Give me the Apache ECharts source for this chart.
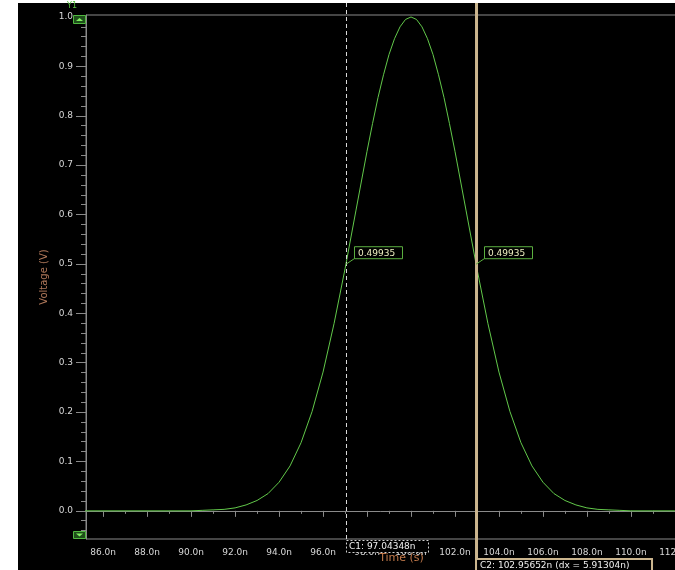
<!DOCTYPE html>
<html><head><meta charset="utf-8">
<script src="https://cdn.jsdelivr.net/npm/echarts@6/dist/echarts.min.js"></script>
<style>
html,body{margin:0;padding:0;background:#fff;}
#wrap{position:relative;width:675px;height:570px;overflow:hidden;background:#fff;}
#bg{position:absolute;left:18px;top:3px;right:0;bottom:0;background:#000;}
#chart{position:absolute;left:0;top:0;width:675px;height:570px;}
</style></head><body>
<div id="wrap"><div id="bg"></div><div id="chart"></div></div>
<script>
// ---- data ----
const timeNs = [85,86,87,88,89,90,90.5,91,91.5,92,92.5,93,93.5,94,94.5,95,95.5,96,96.5,97,97.5,98,98.25,98.5,98.75,99,99.25,99.5,99.75,100,100.25,100.5,100.75,101,101.25,101.5,101.75,102,102.5,103,103.5,104,104.5,105,105.5,106,106.5,107,107.5,108,108.5,109,109.5,110,111,112,113,114];
const voltage = [0,0,0,0,0,0,0.001,0.002,0.003,0.006,0.012,0.021,0.035,0.058,0.091,0.138,0.201,0.281,0.379,0.490,0.609,0.728,0.784,0.837,0.883,0.924,0.956,0.980,0.995,1.000,0.995,0.980,0.956,0.924,0.883,0.837,0.784,0.728,0.609,0.490,0.379,0.281,0.201,0.138,0.091,0.058,0.035,0.021,0.012,0.006,0.003,0.002,0.001,0,0,0,0,0];
const xTickValues = [86,88,90,92,94,96,98,100,102,104,106,108,110,112];
const xMinorTicks = [85,87,89,91,93,95,97,99,101,103,105,107,109,111,113];
const yTickValues = [0.0,0.1,0.2,0.3,0.4,0.5,0.6,0.7,0.8,0.9,1.0];
const cursorTimes = [97.04348, 102.95652];
const cursorLevels = [0.49935, 0.49935];
const markerTexts = ['0.49935', '0.49935'];
const cursorTexts = ['C1: 97.04348n', 'C2: 102.95652n (dx = 5.91304n)'];

const X_MIN = 85.22, X_MAX = 113.37, Y_MIN = -0.057, Y_MAX = 1.004;
const yMinorTicks = [];
for (let k = -2; k <= 50; k++) { if (k % 5 !== 0) yMinorTicks.push(+(k * 0.02).toFixed(2)); }

const FONT = 'DejaVu Sans';
const AX = '#8a8a8a', TXT = '#d8d8d8', GREEN = '#62c84a', TAN = '#cbb58e';

const chart = echarts.init(document.getElementById('chart'), null, {renderer: 'canvas'});
chart.setOption({
  animation: false,
  backgroundColor: 'transparent',
  grid: {left: 86, top: 15, right: -30, bottom: 31, containLabel: false, outerBoundsMode: 'none',
    show: true, borderColor: AX, borderWidth: 1, backgroundColor: 'transparent'},
  xAxis: [{
    type: 'value', min: X_MIN, max: X_MAX, position: 'bottom',
    axisLine: {lineStyle: {color: AX, width: 1}},
    axisTick: {customValues: xTickValues, length: 6, lineStyle: {color: AX}},
    axisLabel: {customValues: xTickValues, formatter: v => v.toFixed(1) + 'n', color: TXT, fontSize: 9, fontFamily: FONT, margin: 9},
    splitLine: {show: false},
    name: 'Time (s)', nameLocation: 'middle', nameGap: 14, nameMoveOverlap: false,
    nameTextStyle: {color: '#c0784a', fontSize: 11, fontFamily: FONT, padding: [0, 0, 0, 12]}
  }, {
    type: 'value', min: X_MIN, max: X_MAX, position: 'bottom', offset: 0,
    axisLine: {show: false},
    axisTick: {customValues: xMinorTicks, length: 3, lineStyle: {color: AX}},
    axisLabel: {show: false}, splitLine: {show: false}
  }],
  yAxis: [{
    type: 'value', min: Y_MIN, max: Y_MAX, position: 'left',
    axisLine: {show: true, lineStyle: {color: AX, width: 1}},
    axisTick: {show: true, customValues: yTickValues, length: 10, lineStyle: {color: AX}},
    axisLabel: {customValues: yTickValues, formatter: v => v.toFixed(1), color: TXT, fontSize: 9, fontFamily: FONT, margin: 13},
    splitLine: {show: false},
    name: 'Voltage (V)', nameLocation: 'middle', nameGap: 37, nameRotate: 90, nameMoveOverlap: false,
    nameTextStyle: {color: '#b0785a', fontSize: 10, fontFamily: FONT}
  }, {
    type: 'value', min: Y_MIN, max: Y_MAX, position: 'left', offset: 0,
    axisLine: {show: false},
    axisTick: {show: true, customValues: yMinorTicks, length: 5, lineStyle: {color: AX}},
    axisLabel: {show: false}, splitLine: {show: false}
  }],
  series: [{
    type: 'line', xAxisIndex: 0, yAxisIndex: 0,
    data: timeNs.map((t, i) => [t, voltage[i]]),
    showSymbol: false, symbol: 'none', smooth: false, clip: true,
    lineStyle: {color: GREEN, width: 1}
  }]
});

// ---- annotations positioned through the chart's own scales ----
const px = (x, y) => chart.convertToPixel({gridIndex: 0}, [x, y]);
const corner = px(X_MIN, Y_MIN);
const axisX = corner[0], axisBottom = corner[1];
const gridTop = px(X_MIN, Y_MAX)[1];
const panelTop = 3;
const g = [];
const pts = cursorTimes.map((t, i) => px(t, cursorLevels[i]));

g.push({type: 'line', z: 100, shape: {x1: pts[0][0] + 0.5, y1: panelTop, x2: pts[0][0] + 0.5, y2: axisBottom + 1},
  style: {stroke: '#dcdcdc', lineWidth: 1, lineDash: [4, 3]}});
g.push({type: 'line', z: 100, shape: {x1: pts[1][0] + 0.5, y1: panelTop, x2: pts[1][0] + 0.5, y2: axisBottom + 20},
  style: {stroke: TAN, lineWidth: 3}});

pts.forEach((p, i) => {
  g.push({type: 'polyline', z: 101, shape: {points: [[p[0], p[1]], [p[0] + 9, p[1] - 6]]}, style: {stroke: '#5cb040', lineWidth: 1, fill: null}});
  g.push({type: 'rect', z: 101, shape: {x: p[0] + 8.5, y: p[1] - 17.5, width: 48, height: 12}, style: {fill: '#000', stroke: '#5cb040', lineWidth: 1}});
  g.push({type: 'text', z: 102, x: p[0] + 12, y: p[1] - 11, style: {text: markerTexts[i], fill: '#eeeec0', font: '9px ' + FONT, verticalAlign: 'middle'}});
});

g.push({type: 'rect', z: 103, shape: {x: pts[0][0] + 0.5, y: axisBottom + 1.5, width: 82, height: 12}, style: {fill: '#000', stroke: '#d0d0d0', lineWidth: 1, lineDash: [2, 2]}});
g.push({type: 'text', z: 104, x: pts[0][0] + 3, y: axisBottom + 8, style: {text: cursorTexts[0], fill: '#f0f0f0', font: '9px ' + FONT, verticalAlign: 'middle'}});
g.push({type: 'rect', z: 103, shape: {x: pts[1][0], y: axisBottom + 20, width: 176, height: 14}, style: {fill: '#000', stroke: TAN, lineWidth: 2}});
g.push({type: 'text', z: 104, x: pts[1][0] + 4, y: axisBottom + 27, style: {text: cursorTexts[1], fill: '#f0f0f0', font: '9px ' + FONT, verticalAlign: 'middle'}});

g.push({type: 'text', z: 100, x: axisX - 19, y: panelTop + 3, style: {text: 'Y1', fill: '#58c040', font: '8px ' + FONT, verticalAlign: 'middle'}});
g.push({type: 'rect', z: 100, shape: {x: axisX - 12.5, y: gridTop + 0.5, width: 12, height: 8}, style: {fill: '#1e4e1a', stroke: '#50b840', lineWidth: 1}});
g.push({type: 'polygon', z: 101, shape: {points: [[axisX - 10, gridTop + 6], [axisX - 3, gridTop + 6], [axisX - 6.5, gridTop + 3]]}, style: {fill: '#80f060'}});
g.push({type: 'rect', z: 100, shape: {x: axisX - 12.5, y: axisBottom - 7.5, width: 12, height: 7}, style: {fill: '#1e4e1a', stroke: '#50b840', lineWidth: 1}});
g.push({type: 'polygon', z: 101, shape: {points: [[axisX - 10, axisBottom - 5.5], [axisX - 3, axisBottom - 5.5], [axisX - 6.5, axisBottom - 2.5]]}, style: {fill: '#80f060'}});

chart.setOption({graphic: g});
</script>
</body></html>
